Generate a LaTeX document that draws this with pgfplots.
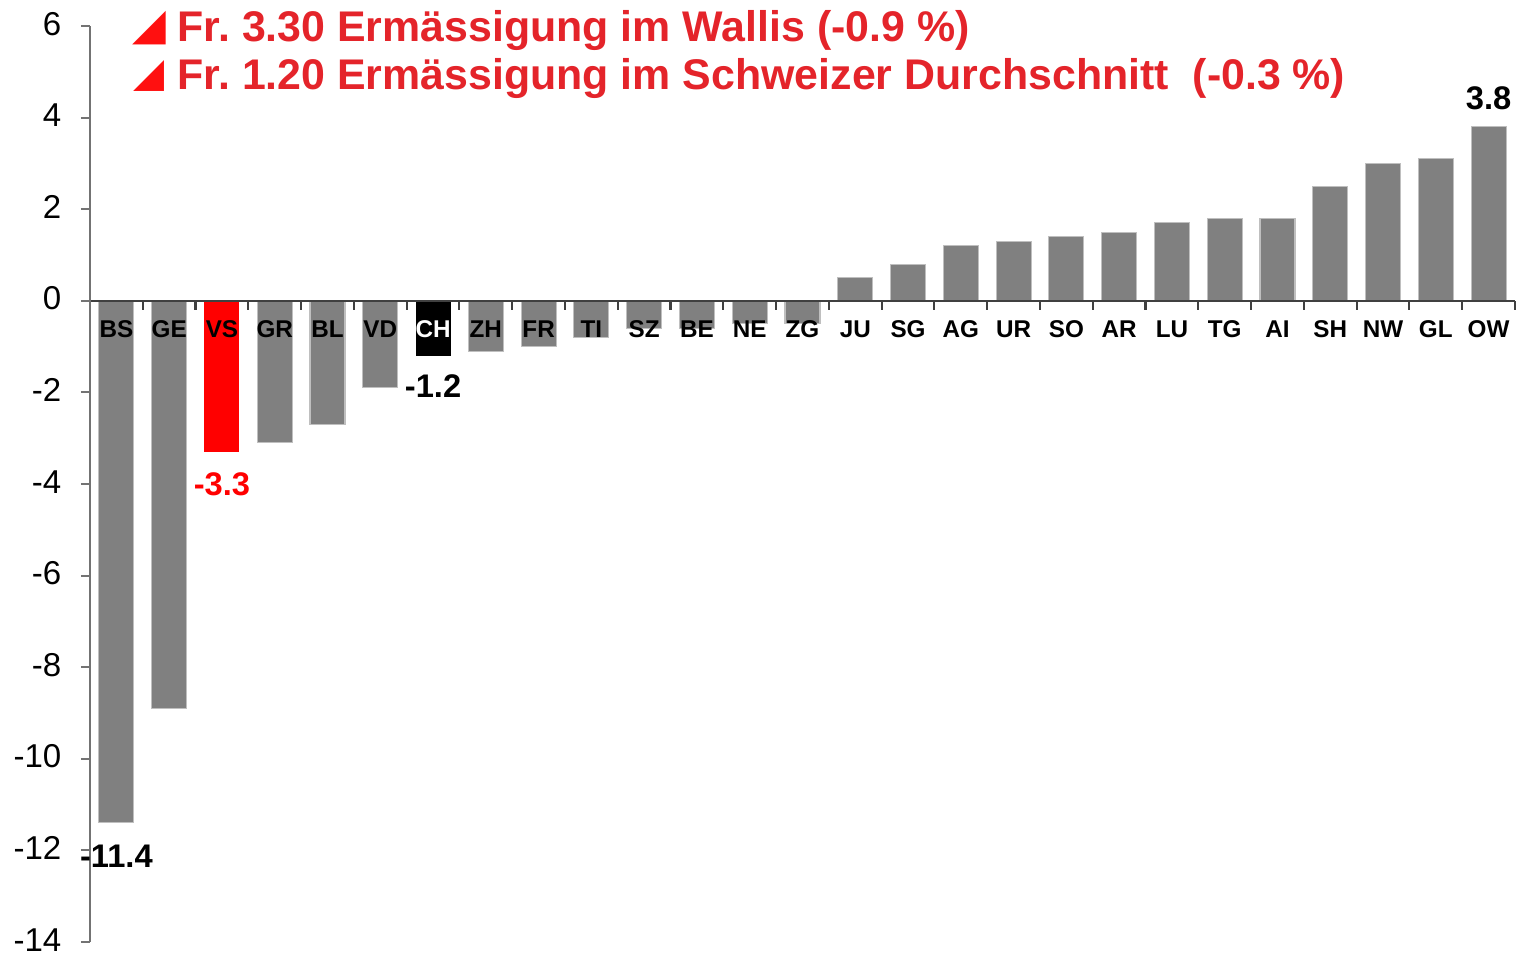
\documentclass[border=0pt]{standalone}
\usepackage{pgfplots}
\pgfplotsset{compat=1.18}
\usepackage{fontspec}
\setmainfont{Liberation Sans}
\newfontfamily\dejavu{DejaVu Sans}
\definecolor{barGray}{HTML}{808080}
\definecolor{titleRed}{RGB}{228,36,42}
\definecolor{triRed}{HTML}{FF1010}
\frenchspacing
\begin{document}
\begin{tikzpicture}
\begin{axis}[
  at={(0,0)}, anchor=south west,
  scale only axis, width=14.25cm, height=9.16cm,
  xmin=-0.5, xmax=26.5, ymin=-14, ymax=6,
  axis x line=middle, axis y line=left,
  axis on top=true,
  clip=false,
  x axis line style={-, black!75, line width=0.6pt},
  y axis line style={-, black!55, line width=0.6pt},
  ytick={-14,-12,...,6},
  tick align=outside,
  major tick length=0.09cm,
  xtick style={black!75, line width=0.6pt},
  ytick style={black!55, line width=0.6pt},
  xtick={-0.5,0.5,...,26.5},
  xticklabels={},
  extra x ticks={0,1,...,26},
  extra x tick labels={BS,GE,VS,GR,BL,VD,{\color{white}CH},ZH,FR,TI,SZ,BE,NE,ZG,JU,SG,AG,UR,SO,AR,LU,TG,AI,SH,NW,GL,OW},
  extra x tick style={major tick length=0pt, xticklabel style={anchor=center, text height=0.72em, text depth=0pt, yshift=-0.24cm, font=\bfseries\fontsize{6.9}{8}\selectfont}},
  yticklabel style={font=\fontsize{9.4}{11}\selectfont, inner sep=0pt, text height=0.72em, text depth=0pt, xshift=-0.19cm, yshift=0.035cm},
  /pgf/number format/assume math mode=true,
  bar width=0.35cm,
]
\addplot[ybar, bar shift=0pt, fill=barGray, draw=black!25, line width=0.3pt] coordinates {
 (1,-8.9) (3,-3.1) (4,-2.7) (5,-1.9) (7,-1.1) (8,-1.0) (9,-0.8) (10,-0.6) (11,-0.6) (12,-0.5) (13,-0.5)
 (14,0.5) (15,0.8) (16,1.2) (17,1.3) (18,1.4) (19,1.5) (20,1.7) (21,1.8) (22,1.8) (23,2.5) (24,3.0) (25,3.1)
};
\addplot[ybar, bar shift=0pt, fill=barGray, draw=black!25, line width=0.3pt,
  point meta=explicit symbolic, nodes near coords,
  nodes near coords style={anchor=center, yshift=-0.33cm, text=black, font=\bfseries\fontsize{9.3}{11}\selectfont}]
  coordinates {(0,-11.4) [-11.4]};
\addplot[ybar, bar shift=0pt, fill=barGray, draw=black!25, line width=0.3pt,
  point meta=explicit symbolic, nodes near coords,
  nodes near coords style={anchor=center, yshift=0.28cm, text=black, font=\bfseries\fontsize{9.3}{11}\selectfont}]
  coordinates {(26,3.8) [3.8]};
\addplot[ybar, bar shift=0pt, fill=red, draw=none,
  point meta=explicit symbolic, nodes near coords,
  nodes near coords style={anchor=center, yshift=-0.32cm, text=red, font=\bfseries\fontsize{9.3}{11}\selectfont}]
  coordinates {(2,-3.3) [-3.3]};
\addplot[ybar, bar shift=0pt, fill=black, draw=none,
  point meta=explicit symbolic, nodes near coords,
  nodes near coords style={anchor=center, yshift=-0.30cm, text=black, font=\bfseries\fontsize{9.3}{11}\selectfont}]
  coordinates {(6,-1.2) [-1.2]};
\end{axis}
\node[anchor=base west, inner sep=0, text=titleRed, font=\bfseries\fontsize{12.2}{14}\selectfont] at (0.87,9.00) {Fr. 3.30 Ermässigung im Wallis (-0.9 \%)};
\node[anchor=base west, inner sep=0, text=titleRed, font=\bfseries\fontsize{12.2}{14}\selectfont] at (0.87,8.52) {Fr. 1.20 Ermässigung im Schweizer Durchschnitt\ \ (-0.3 \%)};
\node[anchor=base east, inner sep=0, text=triRed] at (0.77,9.02) {\dejavu\fontsize{12.5}{14}\selectfont ◢};
\node[anchor=base east, inner sep=0, text=triRed] at (0.75,8.55) {\dejavu\fontsize{11.5}{14}\selectfont ◢};
\pgfresetboundingbox
\path[use as bounding box] (-0.9,-0.12) rectangle (14.3,9.42);
\end{tikzpicture}
\end{document}
